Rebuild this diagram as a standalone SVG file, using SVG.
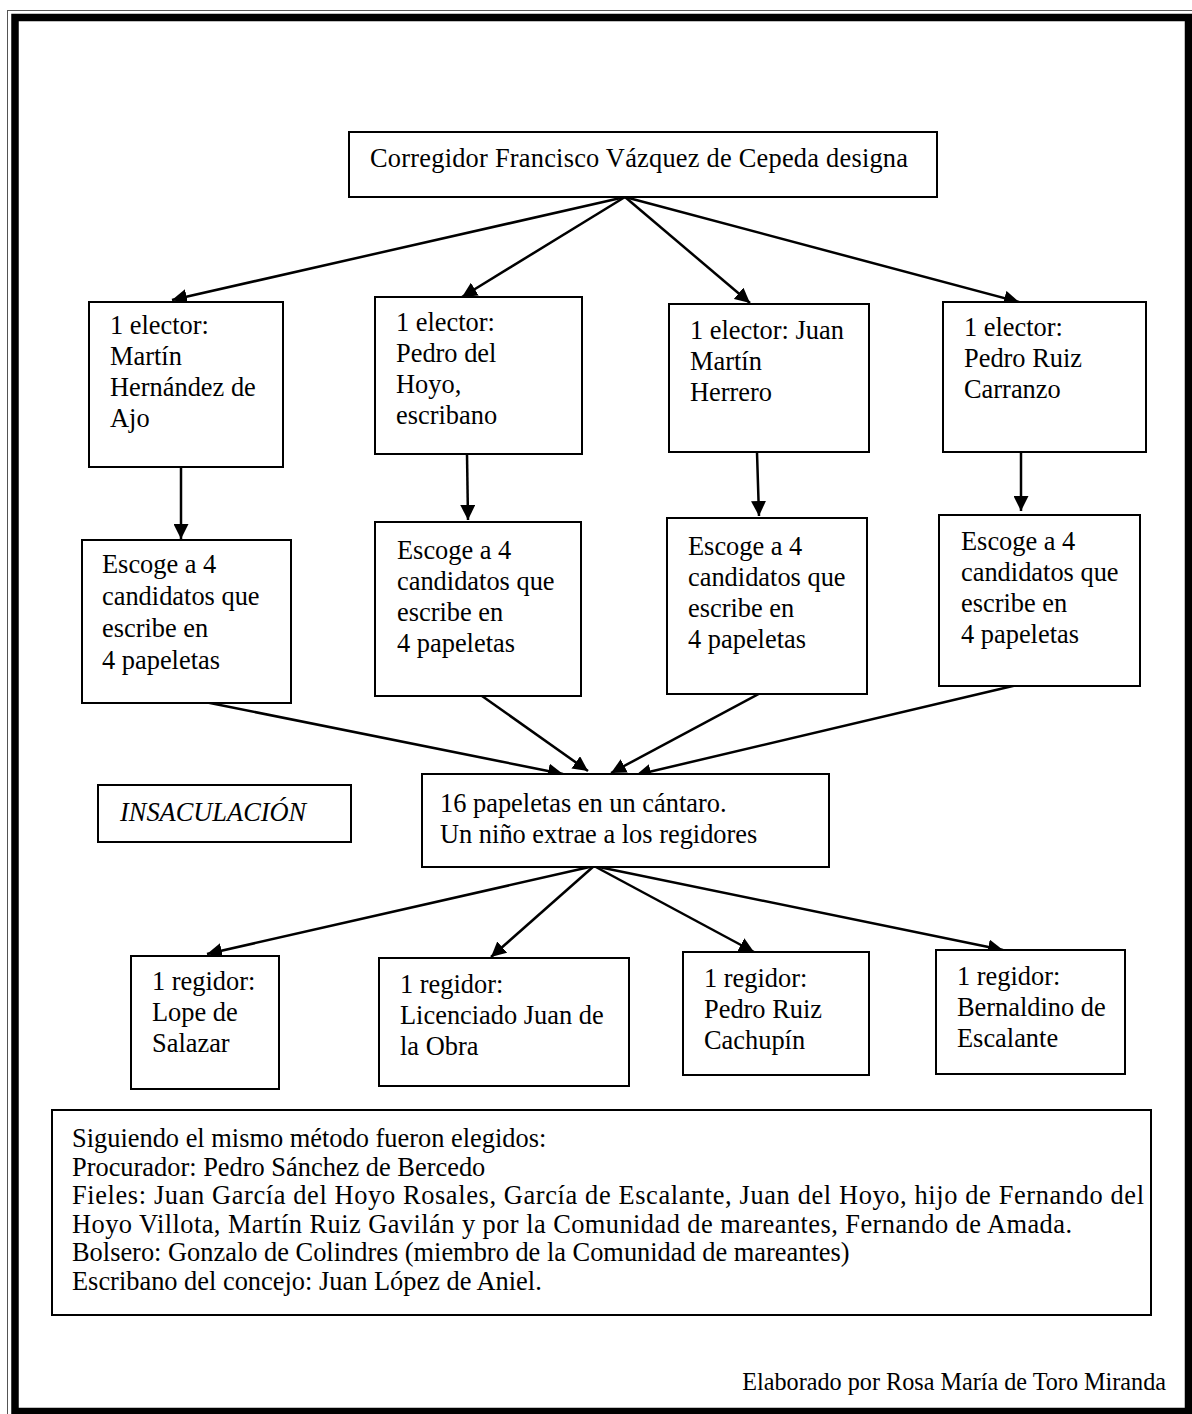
<svg xmlns="http://www.w3.org/2000/svg" width="1192" height="1414" viewBox="0 0 1192 1414">
<style>
text{font-family:"Liberation Serif","Times New Roman",serif;font-size:26.4px;fill:#000}
.box{fill:#fff;stroke:#000;stroke-width:2}
.conn{stroke:#000;stroke-width:2.5;fill:none}
.it{font-style:italic}
.foot{font-size:24.2px}
</style>
<defs>
<marker id="ah" markerUnits="userSpaceOnUse" markerWidth="16" markerHeight="15" refX="15" refY="7.5" orient="auto" viewBox="0 0 16 15">
<path d="M0,0 L15,7.5 L0,15 z" fill="#000"/>
</marker>
</defs>
<rect x="0" y="0" width="1192" height="1414" fill="#fff"/>
<g id="border">
<rect x="7.5" y="10.5" width="1200" height="1420" fill="none" stroke="#555" stroke-width="1"/>
<rect x="15" y="17.5" width="1173.5" height="1394" fill="none" stroke="#000" stroke-width="7.5"/>
</g>
<g id="connectors">
<line class="conn" x1="625" y1="197" x2="172" y2="300" marker-end="url(#ah)"/>
<line class="conn" x1="625" y1="197" x2="462" y2="297" marker-end="url(#ah)"/>
<line class="conn" x1="625" y1="197" x2="750" y2="303" marker-end="url(#ah)"/>
<line class="conn" x1="625" y1="197" x2="1019" y2="302" marker-end="url(#ah)"/>
<line class="conn" x1="181" y1="466" x2="181" y2="539" marker-end="url(#ah)"/>
<line class="conn" x1="467" y1="454" x2="468" y2="520" marker-end="url(#ah)"/>
<line class="conn" x1="757" y1="452" x2="759" y2="516" marker-end="url(#ah)"/>
<line class="conn" x1="1021" y1="451" x2="1021" y2="511" marker-end="url(#ah)"/>
<line class="conn" x1="205" y1="702" x2="563" y2="774" marker-end="url(#ah)"/>
<line class="conn" x1="482" y1="696" x2="588" y2="771" marker-end="url(#ah)"/>
<line class="conn" x1="764" y1="691" x2="611" y2="773" marker-end="url(#ah)"/>
<line class="conn" x1="1017" y1="685" x2="636" y2="775" marker-end="url(#ah)"/>
<line class="conn" x1="594" y1="866" x2="207" y2="954" marker-end="url(#ah)"/>
<line class="conn" x1="594" y1="866" x2="491" y2="957" marker-end="url(#ah)"/>
<line class="conn" x1="594" y1="866" x2="754" y2="952" marker-end="url(#ah)"/>
<line class="conn" x1="594" y1="866" x2="1003" y2="950" marker-end="url(#ah)"/>
</g>
<g id="corregidor">
<rect class="box" x="349" y="132" width="588" height="65"/>
<text x="370" y="167" textLength="538" lengthAdjust="spacing">Corregidor Francisco Vázquez de Cepeda designa</text>
</g>
<g id="elector1">
<rect class="box" x="89" y="302" width="194" height="165"/>
<text><tspan x="110" y="334">1 elector:</tspan><tspan x="110" y="365">Martín</tspan><tspan x="110" y="396">Hernández de</tspan><tspan x="110" y="427">Ajo</tspan></text>
</g>
<g id="elector2">
<rect class="box" x="375" y="297" width="207" height="157"/>
<text><tspan x="396" y="331">1 elector:</tspan><tspan x="396" y="362">Pedro del</tspan><tspan x="396" y="393">Hoyo,</tspan><tspan x="396" y="424">escribano</tspan></text>
</g>
<g id="elector3">
<rect class="box" x="669" y="304" width="200" height="148"/>
<text><tspan x="690" y="339">1 elector: Juan</tspan><tspan x="690" y="370">Martín</tspan><tspan x="690" y="401">Herrero</tspan></text>
</g>
<g id="elector4">
<rect class="box" x="943" y="302" width="203" height="150"/>
<text><tspan x="964" y="336">1 elector:</tspan><tspan x="964" y="367">Pedro Ruiz</tspan><tspan x="964" y="398">Carranzo</tspan></text>
</g>
<g id="escoge1">
<rect class="box" x="82" y="540" width="209" height="163"/>
<text><tspan x="102" y="573">Escoge a 4</tspan><tspan x="102" y="605">candidatos que</tspan><tspan x="102" y="637">escribe en</tspan><tspan x="102" y="669">4 papeletas</tspan></text>
</g>
<g id="escoge2">
<rect class="box" x="375" y="522" width="206" height="174"/>
<text><tspan x="397" y="559">Escoge a 4</tspan><tspan x="397" y="590">candidatos que</tspan><tspan x="397" y="621">escribe en</tspan><tspan x="397" y="652">4 papeletas</tspan></text>
</g>
<g id="escoge3">
<rect class="box" x="667" y="518" width="200" height="176"/>
<text><tspan x="688" y="555">Escoge a 4</tspan><tspan x="688" y="586">candidatos que</tspan><tspan x="688" y="617">escribe en</tspan><tspan x="688" y="648">4 papeletas</tspan></text>
</g>
<g id="escoge4">
<rect class="box" x="939" y="515" width="201" height="171"/>
<text><tspan x="961" y="550">Escoge a 4</tspan><tspan x="961" y="581">candidatos que</tspan><tspan x="961" y="612">escribe en</tspan><tspan x="961" y="643">4 papeletas</tspan></text>
</g>
<g id="insaculacion">
<rect class="box" x="98" y="785" width="253" height="57"/>
<text class="it" x="120" y="821">INSACULACIÓN</text>
</g>
<g id="cantaro">
<rect class="box" x="422" y="774" width="407" height="93"/>
<text><tspan x="440" y="812">16 papeletas en un cántaro.</tspan><tspan x="440" y="843">Un niño extrae a los regidores</tspan></text>
</g>
<g id="regidor1">
<rect class="box" x="131" y="956" width="148" height="133"/>
<text><tspan x="152" y="990">1 regidor:</tspan><tspan x="152" y="1021">Lope de</tspan><tspan x="152" y="1052">Salazar</tspan></text>
</g>
<g id="regidor2">
<rect class="box" x="379" y="958" width="250" height="128"/>
<text><tspan x="400" y="993">1 regidor:</tspan><tspan x="400" y="1024">Licenciado Juan de</tspan><tspan x="400" y="1055">la Obra</tspan></text>
</g>
<g id="regidor3">
<rect class="box" x="683" y="952" width="186" height="123"/>
<text><tspan x="704" y="987">1 regidor:</tspan><tspan x="704" y="1018">Pedro Ruiz</tspan><tspan x="704" y="1049">Cachupín</tspan></text>
</g>
<g id="regidor4">
<rect class="box" x="936" y="950" width="189" height="124"/>
<text><tspan x="957" y="985">1 regidor:</tspan><tspan x="957" y="1016">Bernaldino de</tspan><tspan x="957" y="1047">Escalante</tspan></text>
</g>
<g id="resumen">
<rect class="box" x="52" y="1110" width="1099" height="205"/>
<text x="72" y="1147">Siguiendo el mismo método fueron elegidos:</text>
<text x="72" y="1175.5">Procurador: Pedro Sánchez de Bercedo</text>
<text x="72" y="1204" textLength="1072" lengthAdjust="spacing">Fieles: Juan García del Hoyo Rosales, García de Escalante, Juan del Hoyo, hijo de Fernando del</text>
<text x="72" y="1232.5" textLength="1000" lengthAdjust="spacing">Hoyo Villota, Martín Ruiz Gavilán y por la Comunidad de mareantes, Fernando de Amada.</text>
<text x="72" y="1261">Bolsero: Gonzalo de Colindres (miembro de la Comunidad de mareantes)</text>
<text x="72" y="1289.5">Escribano del concejo: Juan López de Aniel.</text>
</g>
<g id="autor">
<text class="foot" x="1166" y="1390" text-anchor="end">Elaborado por Rosa María de Toro Miranda</text>
</g>
</svg>
